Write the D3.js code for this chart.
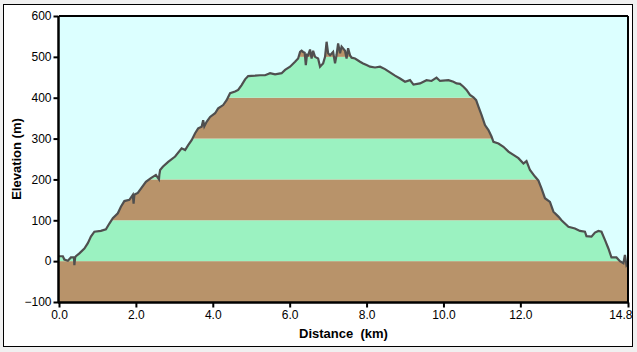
<!DOCTYPE html>
<html><head><meta charset="utf-8">
<script src="https://cdn.jsdelivr.net/npm/d3@7"></script>
<style>body{margin:0;background:#f0f0f0;}svg{display:block;}</style>
</head><body>
<script>
// ---- data ----
const distanceKm = [0.03,0.10,0.14,0.23,0.31,0.39,0.40,0.42,0.44,0.53,0.66,0.75,0.83,0.92,1.09,1.22,1.31,1.40,1.53,1.61,1.70,1.83,1.92,1.94,1.96,1.98,2.05,2.26,2.39,2.52,2.60,2.61,2.63,2.70,2.84,3.02,3.19,3.28,3.36,3.45,3.54,3.62,3.71,3.75,3.78,3.84,3.93,4.06,4.14,4.27,4.36,4.45,4.58,4.66,4.75,4.84,4.92,5.10,5.23,5.36,5.49,5.62,5.79,5.88,6.01,6.14,6.22,6.27,6.31,6.35,6.39,6.42,6.45,6.48,6.53,6.57,6.61,6.66,6.74,6.79,6.83,6.87,6.92,6.96,7.00,7.05,7.13,7.18,7.22,7.26,7.31,7.35,7.44,7.48,7.52,7.57,7.61,7.70,7.83,7.91,8.00,8.09,8.22,8.35,8.48,8.61,8.74,8.87,9.00,9.13,9.22,9.39,9.56,9.69,9.82,9.91,10.13,10.26,10.34,10.43,10.52,10.60,10.69,10.78,10.85,10.91,10.99,11.08,11.17,11.25,11.30,11.43,11.56,11.69,11.82,11.95,12.08,12.16,12.25,12.38,12.47,12.55,12.64,12.77,12.86,12.99,13.07,13.25,13.42,13.55,13.68,13.72,13.85,13.94,14.03,14.11,14.20,14.29,14.37,14.50,14.59,14.68,14.72,14.76,14.80];
const elevationM = [12,12,4,1,9,9,-10,9,12,19,31,44,60,72,74,78,92,105,117,133,147,150,162,141,162,164,167,194,203,211,200,211,223,231,243,256,276,272,284,296,313,325,329,345,330,341,353,362,374,382,394,411,415,419,431,445,453,454,455,455,460,457,460,468,476,488,496,512,515,512,510,480,505,504,518,496,515,500,496,476,480,484,500,537,509,504,512,484,505,533,509,525,515,496,521,504,498,496,488,484,480,476,474,476,470,462,454,447,439,443,432,435,443,441,449,441,443,439,435,434,427,419,407,401,394,378,358,333,321,305,292,288,280,268,260,252,239,245,223,207,197,178,154,145,121,109,100,84,80,74,72,61,60,70,74,72,52,31,9,9,0,-5,15,-10,-5];
const yTicks = [-100,0,100,200,300,400,500,600];
const xTicks = [0,2,4,6,8,10,12,14.8];
const bandEdges = [-100,0,100,200,300,400,500,600];
const bandColors = ["#b8936a","#9bf2c1","#b8936a","#9bf2c1","#b8936a","#9bf2c1","#b8936a"];

// ---- layout ----
const W = 637, H = 352;
const L = 59, R = 628, T = 16, B = 302;
const svg = d3.select("body").append("svg").attr("width", W).attr("height", H);
svg.append("rect").attr("x",0).attr("y",0).attr("width",W).attr("height",H).attr("fill","#f0f0f0");
svg.append("rect").attr("x",3.5).attr("y",4.5).attr("width",629).attr("height",342)
  .attr("fill","#ffffff").attr("stroke","#000").attr("stroke-width",1);

const x = d3.scaleLinear().domain([0,14.8]).range([L,R]);
const y = d3.scaleLinear().domain([-100,600]).range([B,T]);

const pts = distanceKm.map((d,i)=>({d, e: elevationM[i]}));

// bands
const bands = d3.range(bandColors.length).map(i=>({lo:bandEdges[i], hi:bandEdges[i+1], c:bandColors[i]}));
svg.append("g").selectAll("rect").data(bands).join("rect")
  .attr("x", x(0)).attr("width", x(14.8)-x(0))
  .attr("y", d=>y(d.hi)).attr("height", d=>y(d.lo)-y(d.hi))
  .attr("fill", d=>d.c);

// sky above profile
const ptsFull = [{d:0,e:pts[0].e}].concat(pts);
const area = d3.area().x(d=>x(d.d)).y0(y(600)).y1(d=>y(d.e));
svg.append("path").datum(ptsFull).attr("d", area).attr("fill","#dcffff");

// line
const line = d3.line().x(d=>x(d.d)).y(d=>y(d.e));
svg.append("path").datum(ptsFull).attr("d", line).attr("fill","none")
  .attr("stroke","#4f4f4f").attr("stroke-width",2.2).attr("stroke-linejoin","miter");

// frame top/right
svg.append("line").attr("x1",L).attr("x2",R).attr("y1",T).attr("y2",T).attr("stroke","#000").attr("stroke-width",2);
svg.append("line").attr("x1",R).attr("x2",R).attr("y1",T).attr("y2",B).attr("stroke","#000").attr("stroke-width",2);

// axes
const font = "'Liberation Sans', Arial, sans-serif";
const yAxis = d3.axisLeft(y).tickValues(yTicks).tickSize(5).tickPadding(2).tickFormat(d3.format("d"));
const gy = svg.append("g").attr("transform",`translate(${L-0.5},0)`).call(yAxis);
const xAxis = d3.axisBottom(x).tickValues(xTicks).tickSize(5).tickPadding(3).tickFormat(d3.format(".1f"));
const gx = svg.append("g").attr("transform",`translate(0,${B+0.5})`).call(xAxis);
[gx,gy].forEach(g=>{
  g.select(".domain").attr("stroke","#000").attr("stroke-width",2.5);
  g.selectAll(".tick line").attr("stroke","#000").attr("stroke-width",2);
  g.selectAll("text").attr("fill","#000").style("font-family",font).style("font-size","12px");
});
gy.select(".domain").attr("d",`M0,${T}V${B+1}`);
gx.select(".domain").attr("d",`M${L-1},0H${R+1}`);
gx.selectAll(".tick").filter(d=>d===14.8).select("text").attr("text-anchor","end").attr("x",4);

// titles
svg.append("text").attr("x",(L+R)/2).attr("y",338).attr("text-anchor","middle")
  .style("font-family",font).style("font-size","13px").style("font-weight","bold")
  .attr("xml:space","preserve").style("white-space","pre").text("Distance  (km)");
svg.append("text").attr("transform",`translate(21,${(T+B)/2}) rotate(-90)`).attr("text-anchor","middle")
  .style("font-family",font).style("font-size","13px").style("font-weight","bold").text("Elevation (m)");
</script>
</body></html>
